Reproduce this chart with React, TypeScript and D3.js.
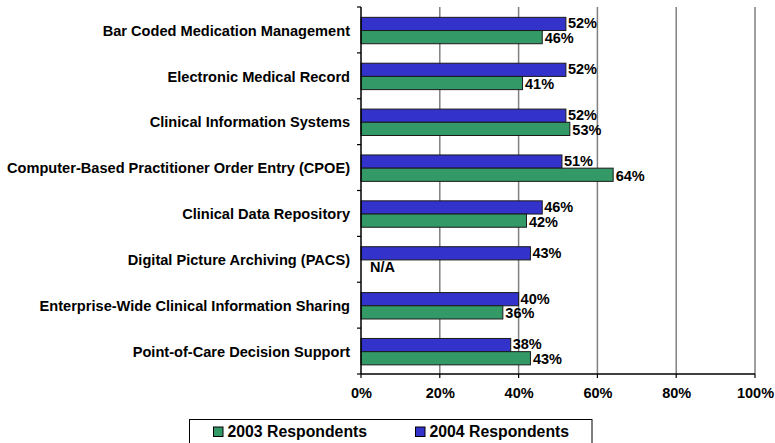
import { useEffect, useRef } from "react";
import * as d3 from "d3";

const categories = [
  "Bar Coded Medication Management",
  "Electronic Medical Record",
  "Clinical Information Systems",
  "Computer-Based Practitioner Order Entry (CPOE)",
  "Clinical Data Repository",
  "Digital Picture Archiving (PACS)",
  "Enterprise-Wide Clinical Information Sharing",
  "Point-of-Care Decision Support",
];

// null = not asked that year
const respondents2003: (number | null)[] = [46, 41, 53, 64, 42, null, 36, 43];
const respondents2004: number[] = [52, 52, 52, 51, 46, 43, 40, 38];

const xTicks = [0, 20, 40, 60, 80, 100];

const seriesNames = ["2003 Respondents", "2004 Respondents"];
const GREEN = "#339966";
const BLUE = "#3333cc";
const FONT = "'Liberation Sans', Arial, sans-serif";

export default function App() {
  const svgRef = useRef<SVGSVGElement>(null);

  useEffect(() => {
    if (!svgRef.current) return;
    const svg = d3.select(svgRef.current);
    svg.selectAll("*").remove();

    const left = 361;
    const right = 755;
    const top = 7;
    const bottom = 374;

    const x = d3.scaleLinear().domain([0, 100]).range([left, right]);
    const y = d3.scaleBand<string>().domain(categories).range([top, bottom]);
    const barH = 13.2;

    // gridlines
    svg
      .append("g")
      .selectAll("line")
      .data(xTicks.filter((t) => t > 0))
      .enter()
      .append("line")
      .attr("x1", (d) => x(d))
      .attr("x2", (d) => x(d))
      .attr("y1", top)
      .attr("y2", bottom)
      .attr("stroke", "#808080")
      .attr("stroke-width", 1.5);

    // bars + value labels
    const g = svg.append("g");
    categories.forEach((c, i) => {
      const cy = y(c)! + y.bandwidth() / 2 + 0.6;
      const v4 = respondents2004[i];
      const v3 = respondents2003[i];

      g.append("rect")
        .attr("x", x(0))
        .attr("y", cy - barH)
        .attr("width", x(v4) - x(0))
        .attr("height", barH)
        .attr("fill", BLUE)
        .attr("stroke", "#1a1a1a")
        .attr("stroke-width", 1);
      g.append("text")
        .attr("x", x(v4) + 2)
        .attr("y", cy - barH / 2)
        .attr("dy", "0.3em")
        .text(`${v4}%`);

      if (v3 != null) {
        g.append("rect")
          .attr("x", x(0))
          .attr("y", cy)
          .attr("width", x(v3) - x(0))
          .attr("height", barH)
          .attr("fill", GREEN)
          .attr("stroke", "#1a1a1a")
          .attr("stroke-width", 1);
        g.append("text")
          .attr("x", x(v3) + 2.5)
          .attr("y", cy + barH / 2)
          .attr("dy", "0.42em")
          .text(`${v3}%`);
      } else {
        g.append("text")
          .attr("x", x(0) + 9)
          .attr("y", cy + barH / 2)
          .attr("dy", "0.4em")
          .text("N/A");
      }
    });

    // left axis with ticks between categories
    const yAxis = svg.append("g");
    yAxis
      .append("line")
      .attr("x1", left)
      .attr("x2", left)
      .attr("y1", top)
      .attr("y2", bottom)
      .attr("stroke", "#000")
      .attr("stroke-width", 1.5);
    yAxis
      .selectAll("line.tick")
      .data(d3.range(categories.length + 1))
      .enter()
      .append("line")
      .attr("class", "tick")
      .attr("x1", left - 4)
      .attr("x2", left)
      .attr("y1", (i) => top + i * y.step())
      .attr("y2", (i) => top + i * y.step())
      .attr("stroke", "#000")
      .attr("stroke-width", 1.2);
    yAxis
      .selectAll("text")
      .data(categories)
      .enter()
      .append("text")
      .attr("x", left - 11)
      .attr("y", (d) => y(d)! + y.bandwidth() / 2 + 0.5)
      .attr("dy", "0.36em")
      .attr("text-anchor", "end")
      .attr("font-size", 14.6)
      .text((d) => d);

    // bottom axis
    const xAxis = svg.append("g");
    xAxis
      .append("line")
      .attr("x1", left)
      .attr("x2", right)
      .attr("y1", bottom)
      .attr("y2", bottom)
      .attr("stroke", "#000")
      .attr("stroke-width", 1.5);
    xAxis
      .selectAll("line.tick")
      .data(xTicks)
      .enter()
      .append("line")
      .attr("class", "tick")
      .attr("x1", (d) => x(d))
      .attr("x2", (d) => x(d))
      .attr("y1", bottom)
      .attr("y2", bottom + 4)
      .attr("stroke", "#000")
      .attr("stroke-width", 1.2);
    xAxis
      .selectAll("text")
      .data(xTicks)
      .enter()
      .append("text")
      .attr("x", (d) => x(d) + 0.5)
      .attr("y", 398)
      .attr("text-anchor", "middle")
      .text((d) => `${d}%`);

    // legend
    const legend = svg.append("g");
    legend
      .append("rect")
      .attr("x", 189.5)
      .attr("y", 419.5)
      .attr("width", 402.5)
      .attr("height", 30)
      .attr("fill", "#fff")
      .attr("stroke", "#000")
      .attr("stroke-width", 1);
    const legendX = [213, 415];
    const legendColors = [GREEN, BLUE];
    seriesNames.forEach((name, i) => {
      legend
        .append("rect")
        .attr("x", legendX[i] + 0.5)
        .attr("y", 427)
        .attr("width", 9.5)
        .attr("height", 9.5)
        .attr("fill", legendColors[i])
        .attr("stroke", "#000")
        .attr("stroke-width", 1);
      legend
        .append("text")
        .attr("x", legendX[i] + 14.5)
        .attr("y", 437)
        .attr("font-size", 15.8)
        .text(name);
    });
  }, []);

  return (
    <svg
      ref={svgRef}
      width={775}
      height={443}
      style={{ position: "absolute", left: 0, top: 0, background: "#fff" }}
      fontFamily={FONT}
      fontWeight="bold"
      fontSize={14.5}
      fill="#000"
    />
  );
}
